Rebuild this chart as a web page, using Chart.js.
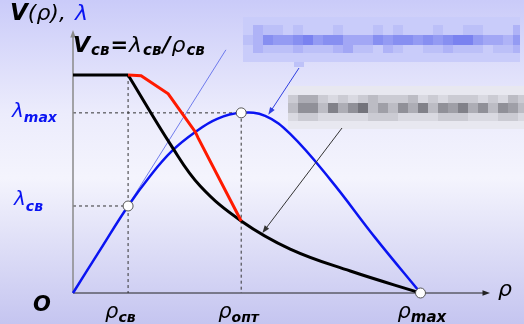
<!DOCTYPE html>
<html>
<head>
<meta charset="utf-8">
<script src="https://cdn.jsdelivr.net/npm/chart.js@4"></script>
<style>
body { margin: 0; background: #fff; }
#c { display: block; }
</style>
</head>
<body>
<canvas id="c" width="524" height="324"></canvas>
<script>
// characteristic points (rho in % of rho_max, lambda in % of lambda_max)
const rhoSv = 15.85, rhoOpt = 48.4, rhoMax = 100;
const lambdaSv = 48.3, lambdaMax = 100, vSv = 121;

// lambda(rho) - blue
const flowX = [0, 7.9, 15.85, 22.2, 28.5, 35.2, 41.5, 48.4, 55.3, 62.5, 74.1, 87, 100];
const flowY = [0, 24.2, 48.3, 65, 78.9, 89.4, 96.7, 100, 98.3, 88.3, 62.8, 30.6, 0];

// V(rho) - black
const flatX = [0, 15.85];
const flatY = [121, 121];
const speedX = [15.85, 28.5, 36.6, 48.4, 62.5, 79.8, 100];
const speedY = [121, 81.1, 59.4, 40, 24.4, 12.2, 0];

// red broken line
const redX = [15.85, 19.6, 27.4, 35.2, 36, 48.4];
const redY = [121, 120.6, 110.6, 89.4, 86.1, 40];

// thin line from origin through (rho_sv, lambda_sv)
const rayX = [0, 44];
const rayY = [0, 135];

const markX = [rhoSv, rhoOpt, rhoMax];
const markY = [lambdaSv, lambdaMax, 0];

const pts = (xs, ys) => xs.map((x, i) => ({ x: x, y: ys[i] }));

const FAM = '"DejaVu Sans", sans-serif';
const BLUE = '#0a14f2';

function rich(ctx, x, y, parts) {
  parts.forEach(p => {
    ctx.font = p.f + ' ' + FAM;
    ctx.fillStyle = p.c || '#000';
    ctx.fillText(p.t, x, y + (p.dy || 0));
    x += ctx.measureText(p.t).width + (p.sp || 0);
  });
}

function mix(a, b, k) {
  return 'rgb(' + a.map((v, i) => Math.round(v + (b[i] - v) * k)).join(',') + ')';
}

// pixelated (blurred) boxes
function mosaic(ctx, x0, y0, w, rows, light, dark) {
  let y = y0;
  rows.forEach(r => {
    const h = r[0], s = r[1];
    for (let i = 0; i * 10 < w; i++) {
      ctx.fillStyle = mix(light, dark, (+s[i % s.length]) / 9);
      ctx.fillRect(x0 + i * 10, y, Math.min(10, w - i * 10), h);
    }
    y += h;
  });
}

function arrow(ctx, x1, y1, x2, y2, color, w, len) {
  const a = Math.atan2(y2 - y1, x2 - x1);
  ctx.strokeStyle = color;
  ctx.fillStyle = color;
  ctx.lineWidth = w;
  ctx.beginPath();
  ctx.moveTo(x1, y1);
  ctx.lineTo(x2 - Math.cos(a) * len * 0.6, y2 - Math.sin(a) * len * 0.6);
  ctx.stroke();
  ctx.beginPath();
  ctx.moveTo(x2, y2);
  ctx.lineTo(x2 - len * Math.cos(a - 0.35), y2 - len * Math.sin(a - 0.35));
  ctx.lineTo(x2 - len * Math.cos(a + 0.35), y2 - len * Math.sin(a + 0.35));
  ctx.closePath();
  ctx.fill();
}

const decor = {
  id: 'decor',
  beforeDraw(chart) {
    const { ctx, width, height } = chart;
    ctx.save();
    const g = ctx.createLinearGradient(0, 0, 0, height);
    g.addColorStop(0, '#cacbf9');
    g.addColorStop(0.35, '#ececfc');
    g.addColorStop(0.55, '#f4f4fd');
    g.addColorStop(1, '#c5c5f0');
    ctx.fillStyle = g;
    ctx.fillRect(0, 0, width, height);

    mosaic(ctx, 243, 17, 277, [
      [8, '1111111111111111111111111111'],
      [10, '1322121112111212111211221113'],
      [10, '2365567566444656656567754435'],
      [8, '1322232223422132112232221223'],
      [9, '1111111111111111111111111111']
    ], [214, 216, 252], [96, 106, 236]);
    ctx.fillStyle = 'rgb(190,194,248)';
    ctx.fillRect(294, 62, 10, 5);

    mosaic(ctx, 288, 86, 236, [
      [9, '000000000000000000000000'],
      [8, '244212123222312122212132'],
      [10, '366374683536473657463653'],
      [8, '122111112221111222111221'],
      [8, '000000000000000000000000']
    ], [232, 232, 240], [100, 100, 108]);
    ctx.restore();
  },
  beforeDatasetsDraw(chart) {
    const { ctx } = chart;
    const xs = chart.scales.x, ys = chart.scales.y;
    const x0 = xs.getPixelForValue(0), y0 = ys.getPixelForValue(0);
    ctx.save();
    // dashed guides
    ctx.strokeStyle = '#333';
    ctx.lineWidth = 1;
    ctx.setLineDash([3, 3]);
    ctx.beginPath();
    ctx.moveTo(x0, ys.getPixelForValue(lambdaMax));
    ctx.lineTo(xs.getPixelForValue(rhoOpt), ys.getPixelForValue(lambdaMax));
    ctx.lineTo(xs.getPixelForValue(rhoOpt), y0);
    ctx.moveTo(x0, ys.getPixelForValue(lambdaSv));
    ctx.lineTo(xs.getPixelForValue(rhoSv), ys.getPixelForValue(lambdaSv));
    ctx.moveTo(xs.getPixelForValue(rhoSv), ys.getPixelForValue(vSv));
    ctx.lineTo(xs.getPixelForValue(rhoSv), y0);
    ctx.stroke();
    ctx.setLineDash([]);
    // axes
    arrow(ctx, x0, y0, x0, chart.chartArea.top, '#8a8a8a', 1.5, 8);
    arrow(ctx, x0, y0, chart.chartArea.right, y0, '#222', 1, 8);
    ctx.restore();
  },
  afterDatasetsDraw(chart) {
    const { ctx } = chart;
    const xs = chart.scales.x, ys = chart.scales.y;
    ctx.save();
    arrow(ctx, 299, 68, xs.getPixelForValue(56.2), ys.getPixelForValue(98.9), '#3040e0', 1, 8);
    arrow(ctx, 342, 128, xs.getPixelForValue(54.5), ys.getPixelForValue(33.3), '#333', 1, 8);

    ctx.textBaseline = 'alphabetic';
    rich(ctx, 10, 20, [
      { t: 'V', f: 'italic bold 23px' },
      { t: '(ρ),', f: 'italic 22px' }
    ]);
    rich(ctx, 75, 20, [{ t: 'λ', f: 'italic 22px', c: BLUE }]);

    rich(ctx, 73, 52, [
      { t: 'V', f: 'italic bold 22px', sp: 1 },
      { t: 'св', f: 'italic bold 15px', dy: 3, sp: 1 },
      { t: '=', f: 'bold 21px', sp: 1 },
      { t: 'λ', f: 'italic 22px', sp: 1 },
      { t: 'св', f: 'italic bold 15px', dy: 3, sp: 1 },
      { t: '/', f: 'italic bold 22px', sp: 1 },
      { t: 'ρ', f: 'italic 22px', sp: 1 },
      { t: 'св', f: 'italic bold 15px', dy: 3 }
    ]);

    rich(ctx, 12, ys.getPixelForValue(lambdaMax) + 4, [
      { t: 'λ', f: 'italic 20px', c: BLUE },
      { t: 'max', f: 'italic bold 14px', c: BLUE, dy: 5 }
    ]);
    rich(ctx, 14, ys.getPixelForValue(lambdaSv) - 1, [
      { t: 'λ', f: 'italic 20px', c: BLUE },
      { t: 'св', f: 'italic bold 14px', c: BLUE, dy: 6 }
    ]);

    rich(ctx, 33, 311, [{ t: 'O', f: 'italic bold 21px' }]);

    const yb = 318;
    rich(ctx, xs.getPixelForValue(rhoSv) - 23, yb, [
      { t: 'ρ', f: 'italic 21px' },
      { t: 'св', f: 'italic bold 14px', dy: 4 }
    ]);
    rich(ctx, xs.getPixelForValue(rhoOpt) - 23, yb, [
      { t: 'ρ', f: 'italic 21px' },
      { t: 'опт', f: 'italic bold 14px', dy: 4 }
    ]);
    rich(ctx, xs.getPixelForValue(rhoMax) - 23, yb, [
      { t: 'ρ', f: 'italic 21px' },
      { t: 'max', f: 'italic bold 15px', dy: 4 }
    ]);
    rich(ctx, 498, 296, [{ t: 'ρ', f: 'italic 22px' }]);
    ctx.restore();
  }
};

new Chart(document.getElementById('c').getContext('2d'), {
  type: 'line',
  data: {
    datasets: [
      {
        data: pts(markX, markY),
        showLine: false,
        pointRadius: 5,
        pointBackgroundColor: '#fff',
        pointBorderColor: '#555',
        pointBorderWidth: 1,
        clip: false
      },
      {
        data: pts(redX, redY),
        borderColor: '#ff1a00',
        borderWidth: 3,
        tension: 0,
        pointRadius: 0,
        clip: false
      },
      {
        data: pts(flatX, flatY),
        borderColor: '#000',
        borderWidth: 3,
        pointRadius: 0,
        clip: false
      },
      {
        data: pts(speedX, speedY),
        borderColor: '#000',
        borderWidth: 3,
        tension: 0.4,
        pointRadius: 0,
        clip: false
      },
      {
        data: pts(flowX, flowY),
        borderColor: BLUE,
        borderWidth: 2.5,
        tension: 0.4,
        pointRadius: 0,
        clip: false
      },
      {
        data: pts(rayX, rayY),
        borderColor: '#5060e8',
        borderWidth: 0.8,
        pointRadius: 0,
        clip: false
      }
    ]
  },
  options: {
    responsive: false,
    animation: false,
    events: [],
    layout: { padding: { left: 73, right: 34, top: 30, bottom: 31 } },
    plugins: { legend: { display: false }, tooltip: { enabled: false } },
    scales: {
      x: { type: 'linear', min: 0, max: 120, display: false },
      y: { min: 0, max: 146, display: false }
    }
  },
  plugins: [decor]
});
</script>
</body>
</html>
